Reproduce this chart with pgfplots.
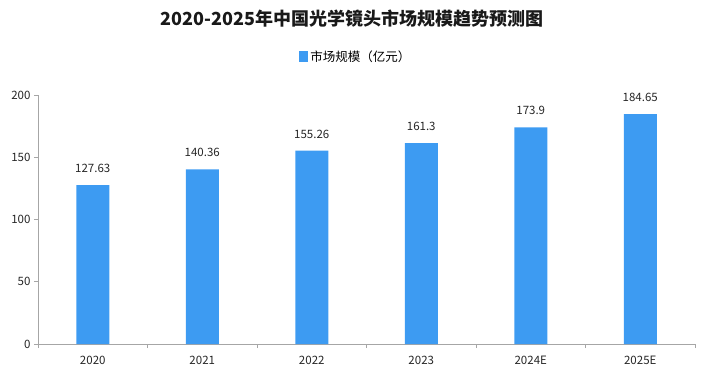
\documentclass[border=0pt]{standalone}
\usepackage{fontspec}
\setmainfont{Noto Sans CJK SC}
\usepackage{pgfplots}
\pgfplotsset{compat=1.18}
\definecolor{barblue}{HTML}{3D9BF2}
\definecolor{axgray}{HTML}{A6A6A6}
\begin{document}
\begin{tikzpicture}
\begin{axis}[
  scale only axis,
  width=657bp, height=249bp,
  xmin=-0.5, xmax=5.5,
  ymin=0, ymax=200,
  ytick={0,50,100,150,200},
  xtick={0,1,2,3,4,5},
  xticklabels={2020,2021,2022,2023,2024E,2025E},
  minor xtick={-0.5,0.5,1.5,2.5,3.5,4.5,5.5},
  axis x line*=bottom,
  axis y line*=left,
  axis line style={axgray, line width=0.8pt},
  x axis line style={-},
  y axis line style={-},
  major x tick style={draw=none},
  minor x tick style={axgray, line width=0.8pt},
  minor tick length=4bp,
  y tick style={axgray, line width=0.8pt},
  ytick pos=left,
  tick align=outside,
  xtick align=inside,
  major tick length=4bp,
  tick label style={font=\fontsize{11.5bp}{13bp}\selectfont, text=black!85},
  xticklabel style={yshift=-5bp},
  /pgf/number format/assume math mode=true,
  ybar, bar width=33bp,
  nodes near coords,
  point meta=explicit symbolic,
  nodes near coords style={font=\fontsize{11.5bp}{13bp}\selectfont, text=black!85, yshift=9bp},
  legend style={at={(0.484,1.153)}, anchor=center, draw=none, fill=none,
    font=\fontsize{12.5bp}{14bp}\selectfont, legend cell align=left},
  legend image code/.code={\fill[barblue] (0bp,-5.5bp) rectangle (9bp,5.5bp);},
  clip=false,
]
\addplot[fill=barblue, draw=none] coordinates {
  (0,127.63) [127.63]
  (1,140.36) [140.36]
  (2,155.26) [155.26]
  (3,161.3) [161.3]
  (4,173.9) [173.9]
  (5,184.65) [184.65]
};
\addlegendentry{市场规模（亿元）}
\end{axis}
\node[font=\bfseries\fontsize{18bp}{21bp}\selectfont, text=black!90] at ([xshift=314bp,yshift=325bp]current axis.south west) {2020-2025年中国光学镜头市场规模趋势预测图};
\pgfresetboundingbox
\path ([xshift=-38bp,yshift=-29bp]current axis.south west) rectangle ([xshift=666bp,yshift=344bp]current axis.south west);
\end{tikzpicture}
\end{document}
